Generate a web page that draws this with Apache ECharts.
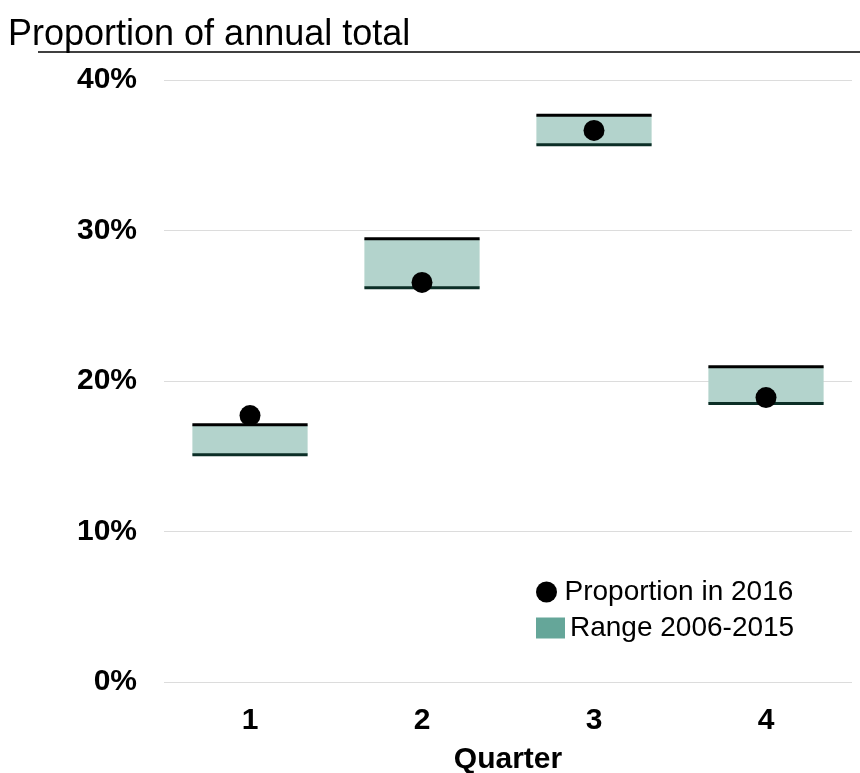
<!DOCTYPE html>
<html>
<head>
<meta charset="utf-8">
<script src="https://cdn.jsdelivr.net/npm/echarts@6/dist/echarts.min.js"></script>
<style>
  html, body { margin: 0; padding: 0; background: #fff; }
  #chart { width: 860px; height: 773px; }
</style>
</head>
<body>
<div id="chart"></div>
<script>
// 数据
const quarters = ['1', '2', '3', '4']
const rangeMin = [15.1, 26.2, 35.7, 18.5]
const rangeMax = [17.1, 29.45, 37.65, 20.95]
const proportion2016 = [17.7, 26.55, 36.65, 18.9]

const chart = echarts.init(document.getElementById('chart'))

const rangeData = quarters.map((q, i) => [i, rangeMin[i], rangeMax[i]])

// 绘制范围框 + 上下边线
const renderRange = (params, api) => {
  const idx = api.value(0)
  const low = api.coord([idx, api.value(1)])
  const high = api.coord([idx, api.value(2)])
  const bw = api.size([1, 0])[0] * 0.67
  const x0 = low[0] - bw / 2
  return {
    type: 'group',
    children: [
      {
        type: 'rect',
        shape: { x: x0, y: high[1], width: bw, height: low[1] - high[1] },
        style: { fill: '#b3d3cc' },
      },
      {
        type: 'line',
        shape: { x1: x0, y1: high[1], x2: x0 + bw, y2: high[1] },
        style: { stroke: '#000', lineWidth: 3 },
      },
      {
        type: 'line',
        shape: { x1: x0, y1: low[1], x2: x0 + bw, y2: low[1] },
        style: { stroke: '#0b2e26', lineWidth: 3 },
      },
    ],
  }
}

const options = {
  animation: false,
  textStyle: { fontFamily: 'Liberation Sans, Arial, sans-serif' },
  title: {
    text: 'Proportion of annual total',
    left: 3,
    top: 12,
    textStyle: { fontSize: 36, fontWeight: 'normal', color: '#000' },
  },
  graphic: [
    {
      type: 'line',
      shape: { x1: 38, y1: 52, x2: 860, y2: 52 },
      style: { stroke: '#000', lineWidth: 1.5 },
    },
  ],
  legend: [
    {
      data: [{ name: 'Proportion in 2016', icon: 'circle' }],
      left: 531,
      top: 573,
      itemWidth: 26,
      itemHeight: 21,
      textStyle: { fontSize: 28, color: '#000' },
    },
    {
      data: [{ name: 'Range 2006-2015', icon: 'rect' }],
      left: 531,
      top: 609,
      itemWidth: 29,
      itemHeight: 21,
      textStyle: { fontSize: 28, color: '#000' },
    },
  ],
  grid: {
    left: 164,
    right: 8,
    top: 80,
    bottom: 91,
    containLabel: false,
    outerBoundsMode: 'none',
  },
  xAxis: {
    type: 'category',
    data: quarters,
    name: 'Quarter',
    nameLocation: 'middle',
    nameGap: 63,
    nameTextStyle: { fontSize: 30, fontWeight: 'bold', color: '#000' },
    axisLine: { show: false },
    axisTick: { show: false },
    axisLabel: { fontSize: 30, fontWeight: 'bold', color: '#000', margin: 24 },
  },
  yAxis: {
    type: 'value',
    min: 0,
    max: 40,
    interval: 10,
    axisLine: { show: false },
    axisTick: { show: false },
    splitLine: { lineStyle: { color: '#dcdcdc', width: 1 } },
    axisLabel: {
      fontSize: 30,
      fontWeight: 'bold',
      color: '#000',
      margin: 27,
      formatter: (v) => v + '%',
    },
  },
  series: [
    {
      name: 'Range 2006-2015',
      type: 'custom',
      renderItem: renderRange,
      itemStyle: { color: '#65a699' },
      encode: { x: 0, y: [1, 2] },
      data: rangeData,
      z: 2,
    },
    {
      name: 'Proportion in 2016',
      type: 'scatter',
      data: proportion2016,
      symbol: 'circle',
      symbolSize: 21,
      itemStyle: { color: '#000', opacity: 1 },
      z: 3,
    },
  ],
}

chart.setOption(options)
</script>
</body>
</html>
